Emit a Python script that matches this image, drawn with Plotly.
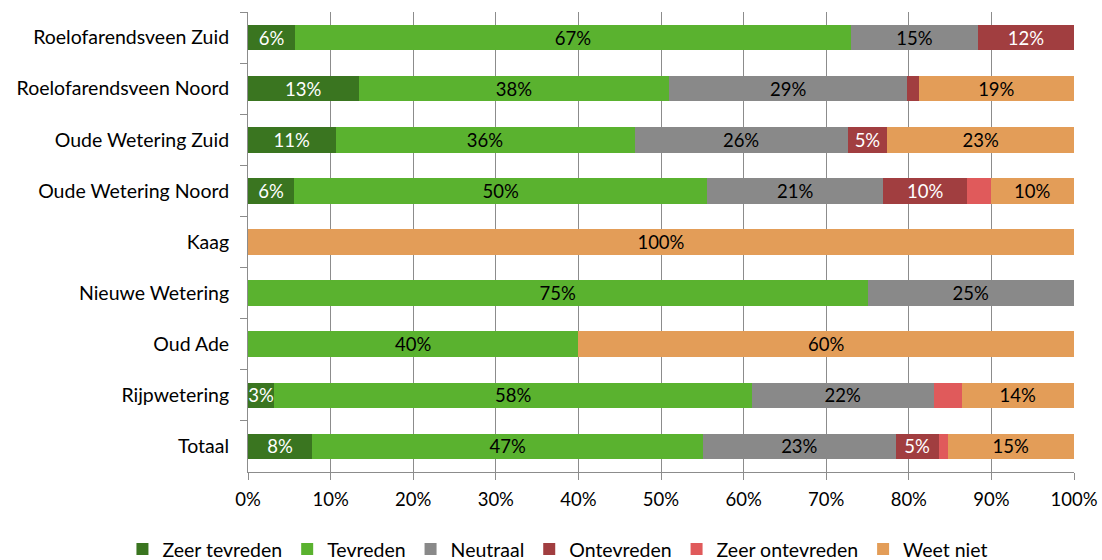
import plotly.graph_objects as go

categories = ["Roelofarendsveen Zuid", "Roelofarendsveen Noord", "Oude Wetering Zuid",
              "Oude Wetering Noord", "Kaag", "Nieuwe Wetering", "Oud Ade", "Rijpwetering", "Totaal"]

series_names = ["Zeer tevreden", "Tevreden", "Neutraal", "Ontevreden", "Zeer ontevreden", "Weet niet"]

zeer_tevreden   = [5.7, 13.4, 10.6, 5.6, 0, 0, 0, 3.2, 7.8]
tevreden        = [67.3, 37.6, 36.2, 50.0, 0, 75, 40, 57.8, 47.3]
neutraal        = [15.4, 28.8, 25.8, 21.3, 0, 25, 0, 22.0, 23.3]
ontevreden      = [11.6, 1.4, 4.8, 10.2, 0, 0, 0, 0, 5.2]
zeer_ontevreden = [0, 0, 0, 2.8, 0, 0, 0, 3.4, 1.1]
weet_niet       = [0, 18.8, 22.6, 10.1, 100, 0, 60, 13.6, 15.3]

tick_vals = [0, 10, 20, 30, 40, 50, 60, 70, 80, 90, 100]
tick_text = [f"{v}%" for v in tick_vals]

colors = ["#3A7520", "#5AB22F", "#898989", "#A13E40", "#E05A5B", "#E39D58"]
text_colors = ["white", "black", "black", "white", "white", "black"]
show_labels = [True, True, True, True, False, True]

data = [zeer_tevreden, tevreden, neutraal, ontevreden, zeer_ontevreden, weet_niet]

FONT = "Lato"
FS = 18.5
fig = go.Figure()
for name, vals, col, tcol, show in zip(series_names, data, colors, text_colors, show_labels):
    texts = [f"{round(v)}%" if (show and v >= 2) else "" for v in vals]
    fig.add_trace(go.Bar(
        name=name, y=categories, x=vals, orientation="h",
        marker=dict(color=col, line=dict(width=0)),
        text=texts, textposition="inside", insidetextanchor="middle",
        textangle=0, constraintext="none",
        textfont=dict(color=tcol, size=FS, family=FONT),
        hoverinfo="skip",
    ))

fig.update_layout(
    barmode="stack",
    bargap=0.5,
    width=1102, height=560,
    margin=dict(l=248, r=28, t=12, b=88, autoexpand=False),
    plot_bgcolor="white", paper_bgcolor="white",
    font=dict(family=FONT, size=FS, color="black"),
    showlegend=True,
    legend=dict(orientation="h", xref="paper", x=-0.152, xanchor="left",
                yref="paper", y=-0.168, yanchor="middle",
                font=dict(size=19.5, family=FONT), itemwidth=30,
                traceorder="normal", tracegroupgap=0),
    xaxis=dict(range=[0, 100], tickvals=tick_vals, ticktext=tick_text,
               showgrid=True, gridcolor="#8C8C8C", gridwidth=1,
               showline=True, linecolor="#8C8C8C", linewidth=1,
               ticks="outside", ticklen=7, tickcolor="#8C8C8C",
               ticklabelstandoff=4, automargin=False,
               zeroline=False, tickfont=dict(size=FS), fixedrange=True),
    yaxis=dict(autorange="reversed", showline=True, linecolor="#8C8C8C", linewidth=1,
               ticks="outside", ticklen=7, tickcolor="#8C8C8C", tickson="boundaries",
               ticklabelstandoff=14, automargin=False,
               showgrid=False, tickfont=dict(size=19.5), fixedrange=True),
)

fig.write_html("out.html")
